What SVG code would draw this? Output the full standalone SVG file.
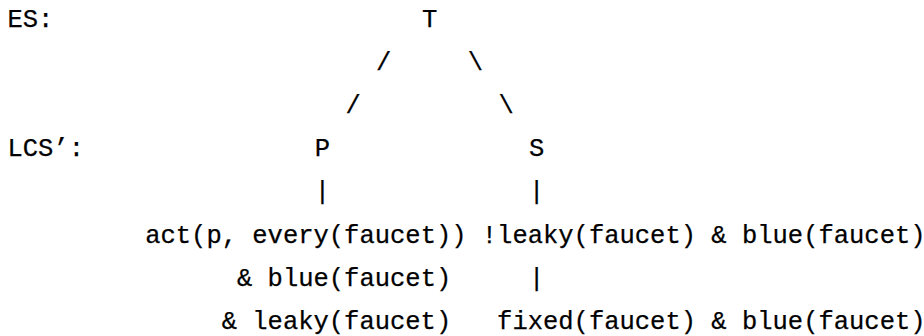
<svg xmlns="http://www.w3.org/2000/svg" width="924" height="336" viewBox="0 0 924 336">
<style>
text { font-family: "Liberation Mono", "DejaVu Sans Mono", monospace; font-size: 25.5px; fill: #000; stroke: #000; stroke-width: 0.25px; }
.c { text-anchor: middle; }
</style>
<rect width="924" height="336" fill="#fff"/>
<g id="labels">
  <text x="7.5" y="26.5">ES:</text>
  <text x="7.5" y="156">LCS’:</text>
</g>
<g id="node-T"><text class="c" x="429.6" y="26.5">T</text></g>
<g id="node-P"><text class="c" x="322.5" y="156">P</text></g>
<g id="node-S"><text class="c" x="536.7" y="156">S</text></g>
<g id="node-P-child"><text x="145.2" y="242.5">act(p, every(faucet))</text>
  <text x="237" y="285.7">&amp; blue(faucet)</text>
  <text x="221.7" y="328.7">&amp; leaky(faucet)</text></g>
<g id="node-S-child"><text x="481.8" y="242.5">!leaky(faucet) &amp; blue(faucet)</text></g>
<g id="node-S-grandchild"><text x="497.1" y="328.7">fixed(faucet) &amp; blue(faucet)</text></g>
<g id="connectors">
  <text class="c" x="383.7" y="69.7">/</text>
  <text class="c" x="475.5" y="69.7">\</text>
  <text class="c" x="353.1" y="112.9">/</text>
  <text class="c" x="506.1" y="112.9">\</text>
  <text class="c" x="322.5" y="199.3">|</text>
  <text class="c" x="536.7" y="199.3">|</text>
  <text class="c" x="536.7" y="285.7">|</text>
</g>
</svg>
